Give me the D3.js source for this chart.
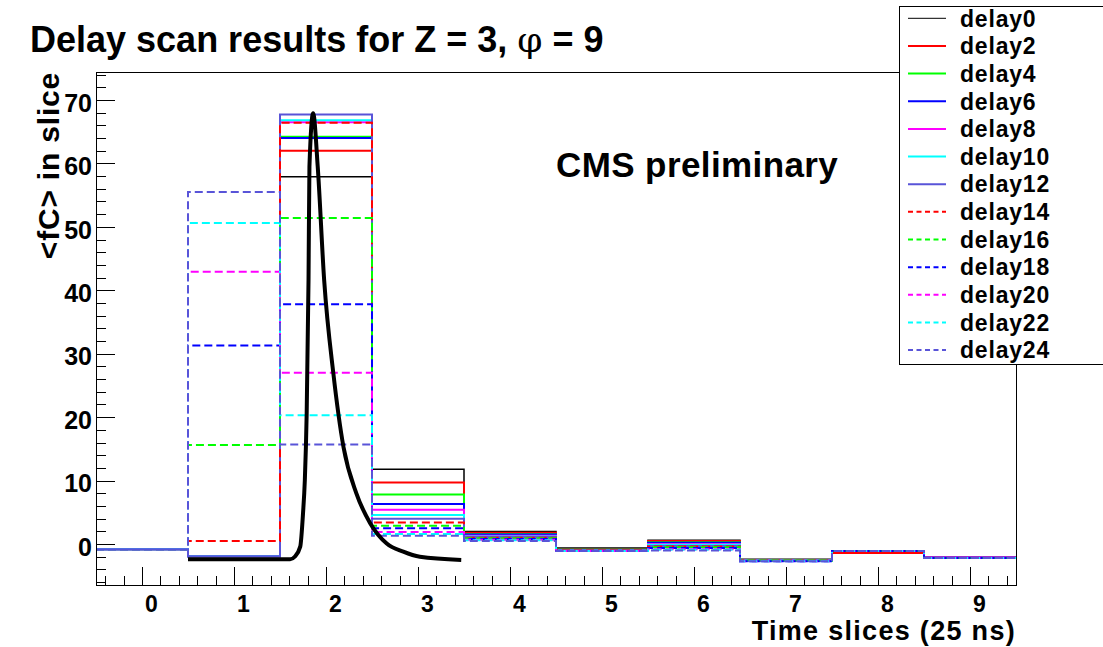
<!DOCTYPE html>
<html>
<head>
<meta charset="utf-8">
<script src="https://cdn.jsdelivr.net/npm/d3@7"></script>
<style>
  body { margin: 0; background: #fff; }
  text { font-family: "Liberation Sans", Arial, Helvetica, sans-serif; font-weight: bold; fill: #000; }
  .axis path, .axis line { stroke: #000; stroke-width: 1; shape-rendering: crispEdges; }
</style>
</head>
<body>
<script>
// time slice bins (centres)
var bins = [0, 1, 2, 3, 4, 5, 6, 7, 8, 9];

var names = ["delay0", "delay2", "delay4", "delay6", "delay8", "delay10", "delay12",
             "delay14", "delay16", "delay18", "delay20", "delay22", "delay24"];

// <fC> per slice
var delay0  = [-0.8, -1.9, 57.9, 11.8, 2.0, -0.6,  0.6, -2.4, -1.1, -2.1];
var delay2  = [-0.8, -1.9, 62.0,  9.7, 1.8, -0.9,  0.5, -2.5, -1.4, -2.1];
var delay4  = [-0.8, -1.9, 64.2,  7.8, 1.6, -0.9,  0.3, -2.5, -1.1, -2.1];
var delay6  = [-0.8, -1.9, 64.0,  6.3, 1.5, -1.0,  0.2, -2.5, -1.1, -2.1];
var delay8  = [-0.8, -1.9, 66.5,  5.4, 1.3, -1.0,  0.0, -2.5, -1.1, -2.1];
var delay10 = [-0.8, -1.9, 66.8,  4.6, 1.2, -1.0, -0.1, -2.6, -1.1, -2.2];
var delay12 = [-0.8, -1.9, 67.7,  4.0, 1.1, -1.0, -0.3, -2.6, -1.1, -2.2];
var delay14 = [-0.8,  0.5, 66.4,  3.4, 1.0, -1.0, -0.4, -2.6, -1.1, -2.2];
var delay16 = [-0.8, 15.6, 51.4,  2.9, 0.9, -1.1, -0.5, -2.6, -1.1, -2.2];
var delay18 = [-0.8, 31.3, 37.8,  2.5, 0.8, -1.1, -0.6, -2.7, -1.1, -2.2];
var delay20 = [-0.8, 42.9, 27.0,  1.9, 0.7, -1.1, -0.8, -2.7, -1.1, -2.2];
var delay22 = [-0.8, 50.6, 20.3,  1.6, 0.6, -1.1, -0.9, -2.7, -1.1, -2.2];
var delay24 = [-0.8, 55.5, 15.7,  1.3, 0.5, -1.1, -1.0, -2.7, -1.1, -2.2];

var series = [delay0, delay2, delay4, delay6, delay8, delay10, delay12,
              delay14, delay16, delay18, delay20, delay22, delay24];

// pulse shape overlaid in black
var pulseX = [0.50, 1.61, 1.66, 1.72, 1.75, 1.77, 1.79, 1.81, 1.82, 1.86, 1.91, 1.98,
              2.08, 2.19, 2.33, 2.48, 2.66, 2.84, 3.02, 3.47];
var pulseY = [-2.4, -2.4, -2.0, -0.4, 4.8, 10.1, 20.6, 41.6, 59.5, 67.9, 59.5, 41.6,
              26.9, 15.3, 8.0, 3.3, 0.1, -1.2, -2.0, -2.5];

var xTicks = [0, 1, 2, 3, 4, 5, 6, 7, 8, 9];
var yTicks = [0, 10, 20, 30, 40, 50, 60, 70];

var colors = ["#000000", "#ff0000", "#00ff00", "#0000ff", "#ff00ff", "#00ffff", "#5954d8",
              "#ff0000", "#00ff00", "#0000ff", "#ff00ff", "#00ffff", "#5954d8"];

var W = 1103, H = 647;
var frame = {left: 96, right: 1016, top: 72, bottom: 585};

var svg = d3.select("body").append("svg")
    .attr("width", W)
    .attr("height", H);

var x = d3.scaleLinear().domain([-0.5, 9.5]).range([frame.left, frame.right]);
var y = d3.scaleLinear().domain([-6.45, 74.4]).range([frame.bottom, frame.top]);

// histogram outline: flat top over every bin, joined by verticals
function steps(vals) {
  var pts = [];
  vals.forEach(function(v, i) {
    pts.push([bins[i] - 0.5, v]);
    pts.push([bins[i] + 0.5, v]);
  });
  return pts;
}

var line = d3.line()
    .x(function(d) { return x(d[0]); })
    .y(function(d) { return y(d[1]); });

var plot = svg.append("g");

series.forEach(function(vals, i) {
  plot.append("path")
      .datum(steps(vals))
      .attr("d", line)
      .attr("fill", "none")
      .attr("stroke", colors[i])
      .attr("stroke-width", i == 0 ? 1.5 : 2)
      .attr("stroke-dasharray", i >= 7 ? "8,4" : null);
});

// black pulse
plot.append("path")
    .datum(pulseX.map(function(d, i) { return [d, pulseY[i]]; }))
    .attr("d", d3.line()
        .x(function(d) { return x(d[0]); })
        .y(function(d) { return y(d[1]); })
        .curve(d3.curveMonotoneX))
    .attr("fill", "none")
    .attr("stroke", "#000")
    .attr("stroke-width", 4);

// frame
svg.append("line")
    .attr("x1", frame.left).attr("x2", frame.right)
    .attr("y1", frame.top).attr("y2", frame.top)
    .attr("stroke", "#000").attr("shape-rendering", "crispEdges");
svg.append("line")
    .attr("x1", frame.right).attr("x2", frame.right)
    .attr("y1", frame.top).attr("y2", frame.bottom)
    .attr("stroke", "#000").attr("shape-rendering", "crispEdges");

// x axis: minor ticks every 0.2, major every 1
var xMinor = d3.range(-0.4, 9.5, 0.2).filter(function(d) { return Math.abs(d - Math.round(d)) > 0.01; });
svg.append("g")
    .attr("class", "axis")
    .attr("transform", "translate(0," + frame.bottom + ")")
    .call(d3.axisTop(x).tickValues(xMinor).tickSize(9).tickFormat(""))
    .select(".domain").remove();
var xAxis = svg.append("g")
    .attr("class", "axis")
    .attr("transform", "translate(0," + frame.bottom + ")")
    .call(d3.axisTop(x).tickValues(xTicks).tickSizeInner(18).tickSizeOuter(0).tickFormat(d3.format("d")));
xAxis.selectAll("text")
    .attr("y", 27)
    .attr("dx", 9)
    .attr("dy", 0)
    .style("font-size", "23px")
    .style("font-family", "'Liberation Sans', Arial, sans-serif")
    .style("font-weight", "bold");

// y axis: minor every 2, major every 10
var yMinor = d3.range(-6, 74.5, 2).filter(function(d) { return d % 10 != 0; });
svg.append("g")
    .attr("class", "axis")
    .attr("transform", "translate(" + frame.left + ",0)")
    .call(d3.axisRight(y).tickValues(yMinor).tickSize(10).tickFormat(""))
    .select(".domain").remove();
var yAxis = svg.append("g")
    .attr("class", "axis")
    .attr("transform", "translate(" + frame.left + ",0)")
    .call(d3.axisRight(y).tickValues(yTicks).tickSizeInner(19).tickSizeOuter(0).tickFormat(d3.format("d")));
yAxis.selectAll("text")
    .attr("x", -4)
    .attr("dy", "0.45em")
    .attr("text-anchor", "end")
    .style("font-size", "25px")
    .style("font-family", "'Liberation Sans', Arial, sans-serif")
    .style("font-weight", "bold");

// titles
var title = svg.append("text")
    .attr("x", 30)
    .attr("y", 52)
    .style("font-size", "36px");
title.append("tspan").text("Delay scan results for Z = 3, ");
title.append("tspan").style("font-family", "'DejaVu Serif', 'Liberation Serif', serif").style("font-weight", "normal").text("φ");
title.append("tspan").text(" = 9");

svg.append("text")
    .attr("transform", "translate(59,72) rotate(-90)")
    .attr("text-anchor", "end")
    .style("font-size", "30px")
    .style("letter-spacing", "0.8px")
    .text("<fC> in slice");

svg.append("text")
    .attr("x", frame.right)
    .attr("y", 640)
    .attr("text-anchor", "end")
    .style("font-size", "27px")
    .style("letter-spacing", "1.3px")
    .text("Time slices (25 ns)");

svg.append("text")
    .attr("x", 556)
    .attr("y", 177)
    .style("font-size", "35px")
    .style("letter-spacing", "0.4px")
    .text("CMS preliminary");

// legend
var legend = svg.append("g");
legend.append("rect")
    .attr("x", 899.5).attr("y", 6.5)
    .attr("width", 210).attr("height", 358)
    .attr("fill", "#fff").attr("stroke", "#000");

var rows = legend.selectAll("g.row")
    .data(names)
    .enter().append("g")
    .attr("class", "row")
    .attr("transform", function(d, i) { return "translate(0," + (18.3 + i * 27.65) + ")"; });
rows.append("line")
    .attr("x1", 908).attr("x2", 946)
    .attr("stroke", function(d, i) { return colors[i]; })
    .attr("stroke-width", function(d, i) { return i == 0 ? 1 : 2; })
    .attr("stroke-dasharray", function(d, i) { return i >= 7 ? "5,3.5" : null; });
rows.append("text")
    .attr("x", 960)
    .attr("dy", "0.36em")
    .style("font-size", "23px")
    .style("letter-spacing", "0.8px")
    .text(function(d) { return d; });
</script>
</body>
</html>
